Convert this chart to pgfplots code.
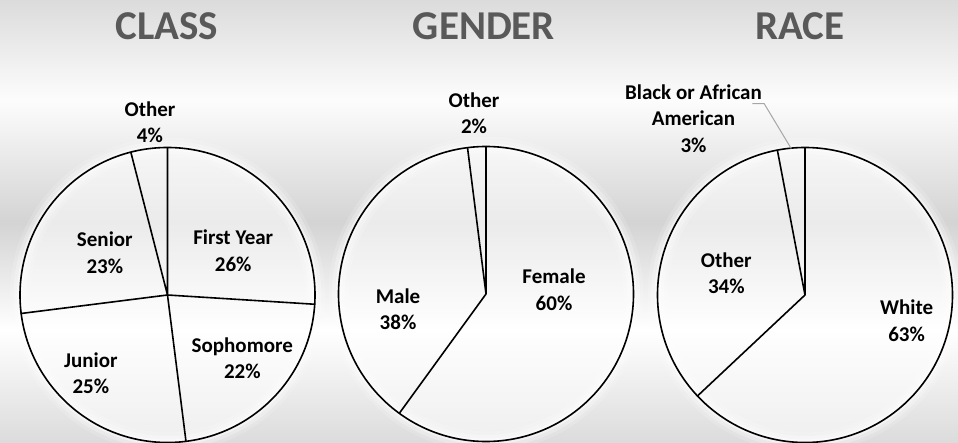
\documentclass[border=0pt]{standalone}
\usepackage{fontspec}
\setmainfont{Carlito}
\usepackage{pgfplots}
\pgfplotsset{compat=1.18}
\usepgfplotslibrary{polar}

\definecolor{titlegray}{HTML}{595959}
\definecolor{leadergray}{HTML}{A6A6A6}
\definecolor{bgedge}{gray}{0.86}
\definecolor{bgdark}{gray}{0.83}
\definecolor{bglight}{gray}{0.99}

% bands of the backdrop, bottom to top (25bp..75bp is the picture)
\pgfdeclareverticalshading{panelbg}{100bp}{%
  color(0bp)=(bgedge); color(25bp)=(bgedge); color(37.75bp)=(white);
  color(49.94bp)=(bgdark); color(63.71bp)=(bglight); color(75bp)=(bgedge);
  color(100bp)=(bgedge)}

\pgfplotsset{
  pie/.style={
    scale only axis, width=295bp, height=295bp,
    xmin=0, xmax=360, ymin=0, ymax=1,
    xtick=\empty, ytick=\empty,
    clip=false,
    axis line style={black, line width=1.6bp},
    y axis line style={draw=none},
    axis background/.style={
      preaction={draw=white, line width=20bp, draw opacity=0.15},
      preaction={draw=white, line width=13bp, draw opacity=0.25},
      preaction={draw=white, line width=6bp, draw opacity=0.45},
      fill=white, fill opacity=0.55},
    anchor=origin,
  },
  cuts/.style={black, line width=1.6bp, no markers, line join=round},
}
\tikzset{
  lbl/.style={font=\bfseries\fontsize{21bp}{26.5bp}\selectfont, align=center},
  ttl/.style={font=\bfseries\fontsize{41bp}{49bp}\selectfont, text=titlegray, anchor=base},
}

\begin{document}
\begin{tikzpicture}
\shade[shading=panelbg] (0,0) rectangle (958bp,443bp);
\useasboundingbox (0,0) rectangle (958bp,443bp);

\node[ttl] at (167bp,403bp) {CLASS};
\node[ttl] at (484bp,403bp) {GENDER};
\node[ttl] at (800bp,403bp) {RACE};

% CLASS: First Year 26, Sophomore 22, Junior 25, Senior 23, Other 4
\begin{polaraxis}[pie, at={(167.5bp,148bp)}]
\addplot[cuts] table[x expr={90-3.6*\thisrow{cum}}, y=r] {
cum r
0 1
0 0
26 1
26 0
48 1
48 0
73 1
73 0
96 1
};
\node[lbl] at (axis cs:33.9,0.537) {First Year\\26\%};
\node[lbl] at (axis cs:-40.2,0.664) {Sophomore\\22\%};
\node[lbl] at (axis cs:225.6,0.743) {Junior\\25\%};
\node[lbl] at (axis cs:146.1,0.512) {Senior\\23\%};
\node[lbl] at (axis cs:95.8,1.176) {Other\\4\%};
\end{polaraxis}

% GENDER: Female 60, Male 38, Other 2
\begin{polaraxis}[pie, at={(486bp,149bp)}]
\addplot[cuts] table[x expr={90-3.6*\thisrow{cum}}, y=r] {
cum r
0 1
0 0
60 1
60 0
98 1
};
\node[lbl] at (axis cs:3.4,0.462) {Female\\60\%};
\node[lbl] at (axis cs:189.7,0.605) {Male\\38\%};
\node[lbl] at (axis cs:93.8,1.23) {Other\\2\%};
\end{polaraxis}

% RACE: White 63, Other 34, Black or African American 3
\begin{polaraxis}[pie, at={(805bp,148bp)}]
\addplot[cuts] table[x expr={90-3.6*\thisrow{cum}}, y=r] {
cum r
0 1
0 0
63 1
63 0
97 1
};
\addplot[leadergray, line width=1bp, no markers] coordinates {(105.4,1.346) (102.05,1.327) (95.4,0.998)};
\node[lbl] at (axis cs:-14.3,0.711) {White\\63\%};
\node[lbl] at (axis cs:164.4,0.554) {Other\\34\%};
\node[lbl] at (axis cs:122.3,1.415) {Black or African\\American\\3\%};
\end{polaraxis}
\end{tikzpicture}
\end{document}
